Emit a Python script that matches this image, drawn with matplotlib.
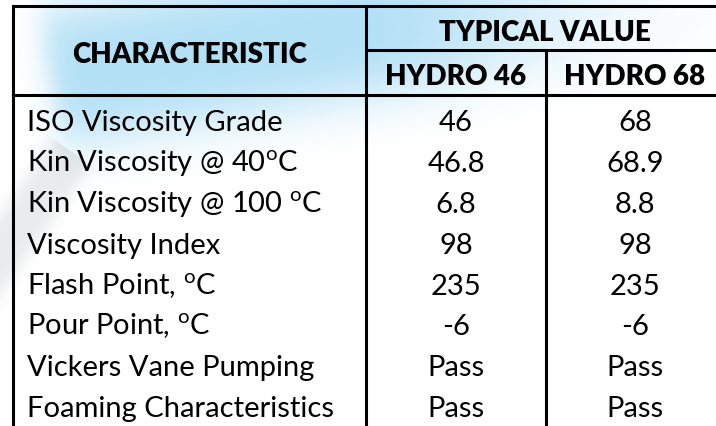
import matplotlib.pyplot as plt
import numpy as np

plt.rcParams['mathtext.fontset'] = 'custom'
plt.rcParams['mathtext.rm'] = 'Lato'

deg = r'$^{\mathrm{o}}$'
characteristics = ['ISO Viscosity Grade', 'Kin Viscosity @ 40' + deg + 'C', 'Kin Viscosity @ 100 ' + deg + 'C',
                   'Viscosity Index', 'Flash Point, ' + deg + 'C', 'Pour Point, ' + deg + 'C',
                   'Vickers Vane Pumping', 'Foaming Characteristics']
hydro46 = ['46', '46.8', '6.8', '98', '235', '-6', 'Pass', 'Pass']
hydro68 = ['68', '68.9', '8.8', '98', '235', '-6', 'Pass', 'Pass']
products = ['HYDRO 46', 'HYDRO 68']

W, H = 716, 427
fig = plt.figure(figsize=(W / 100, H / 100), dpi=100)
ax = fig.add_axes([0, 0, 1, 1])
ax.axis('off')

# soft watermark behind the table: blue cylinder + grey rod
yy, xx = np.mgrid[0:H, 0:W]
ang = np.deg2rad(-9)
px, py = xx - 50, yy - 78
along = px * np.cos(ang) + py * np.sin(ang)
across = -px * np.sin(ang) + py * np.cos(ang)
body = (np.exp(-(np.abs(across) / 75) ** 3)
        / (1 + np.exp(-along / 8))
        * np.exp(-(np.clip(along - 300, 0, None) / 220) ** 2))
ang2 = np.deg2rad(-55)
qx, qy = xx - 0, yy - 255
along2 = qx * np.cos(ang2) + qy * np.sin(ang2)
across2 = -qx * np.sin(ang2) + qy * np.cos(ang2)
rod = np.exp(-(np.abs(across2) / 25) ** 4) * (along2 < 125)
img = np.ones((H, W, 4))
tot = body + rod + 1e-9
for k, (cb, cr) in enumerate([(0.58, 0.82), (0.83, 0.83), (0.95, 0.84)]):
    img[..., k] = (cb * body + cr * rod) / tot
img[..., 3] = np.clip(0.7 * body + 0.45 * rod, 0, 1)
ax.imshow(img, extent=(0, W, H, 0), zorder=0, interpolation='bilinear')
ax.set_xlim(0, W)
ax.set_ylim(H, 0)

fam = 'Lato'
lwid = 2.2
x0, x1, x2, x3 = 12.5, 366, 546, 724
ytop, ysub, yhead = 7, 50.5, 95.5
row_h = 40.9
base0 = 131

# grid lines
ax.plot([x0, W], [ytop, ytop], color='black', lw=lwid, zorder=2)
ax.plot([x1, W], [ysub, ysub], color='black', lw=lwid, zorder=2)
ax.plot([x0, W], [yhead, yhead], color='black', lw=lwid, zorder=2)
for xv in [x0, x1]:
    ax.plot([xv, xv], [ytop, H], color='black', lw=lwid, zorder=2)
ax.plot([x2, x2], [ysub, H], color='black', lw=lwid, zorder=2)

fs = 21
hfs = 20
hw = 'heavy'
ax.text((x0 + x1) / 2, 63, 'CHARACTERISTIC', fontsize=hfs, fontweight=hw,
        family=fam, ha='center', va='baseline')
ax.text((x1 + x3) / 2, 41, 'TYPICAL VALUE', fontsize=hfs, fontweight=hw,
        family=fam, ha='center', va='baseline')
ax.text((x1 + x2) / 2, 85, products[0], fontsize=hfs, fontweight=hw,
        family=fam, ha='center', va='baseline')
ax.text((x2 + x3) / 2, 85, products[1], fontsize=hfs, fontweight=hw,
        family=fam, ha='center', va='baseline')

for i, name in enumerate(characteristics):
    y = base0 + i * row_h
    ax.text(27, y, name, fontsize=fs, family=fam, ha='left', va='baseline')
    ax.text((x1 + x2) / 2, y, hydro46[i], fontsize=fs, family=fam, ha='center', va='baseline')
    ax.text((x2 + x3) / 2, y, hydro68[i], fontsize=fs, family=fam, ha='center', va='baseline')

fig.savefig('out.png', dpi=100)
